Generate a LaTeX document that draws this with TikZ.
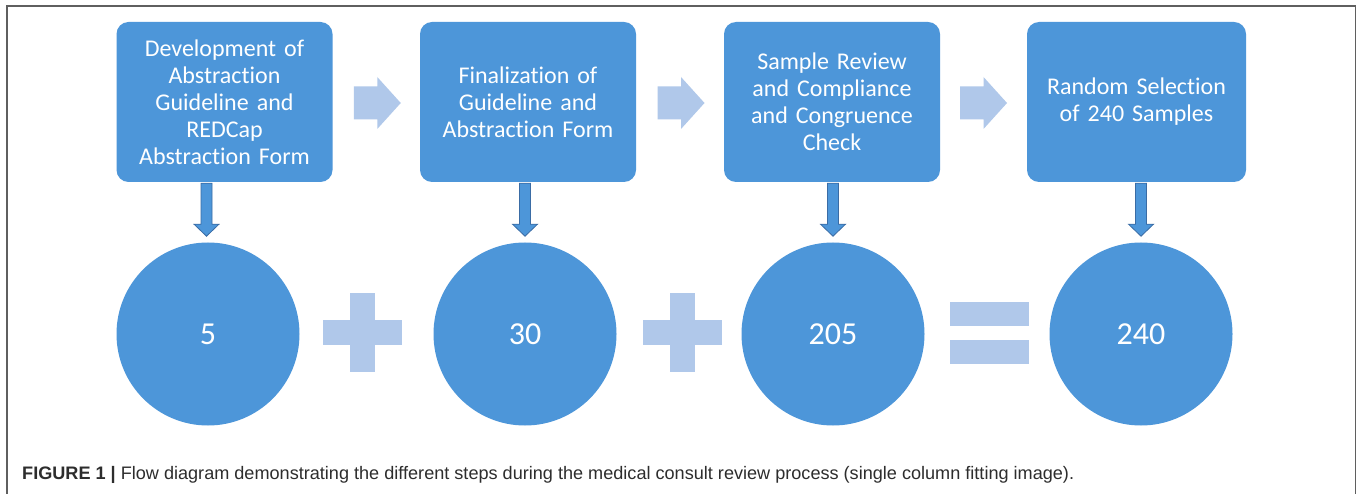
\documentclass[tikz,border=0pt]{standalone}
\usepackage{fontspec}
\setmainfont{Carlito}[Ligatures=NoCommon]
\newfontfamily\capfont{Liberation Sans}
\usetikzlibrary{calc}

\definecolor{stepblue}{RGB}{77,150,217}
\definecolor{paleblue}{RGB}{176,200,234}
\definecolor{edgeblue}{RGB}{58,108,165}
\definecolor{framegray}{RGB}{95,95,95}
\definecolor{captext}{RGB}{45,45,45}

\tikzset{
  stepbox/.style={fill=stepblue, rounded corners=12pt, minimum width=216pt,
    minimum height=160pt, text width=215pt, align=center, text=white,
    font=\fontsize{24}{27}\selectfont, inner sep=0pt},
  countcircle/.style={circle, fill=stepblue, minimum size=183pt, inner sep=0pt,
    text=white, font=\fontsize{32}{38}\selectfont},
  pics/droparrow/.style={code={
    \draw[edgeblue, fill=stepblue, line width=0.8pt]
      (-5.5,0) -- (5.5,0) -- (5.5,41) -- (12.5,41) -- (0,53) -- (-12.5,41) -- (-5.5,41) -- cycle;}},
  pics/nextarrow/.style={code={
    \fill[paleblue] (-23.5,-16.5) -- (0,-16.5) -- (0,-26) -- (23.5,0) -- (0,26) -- (0,16.5) -- (-23.5,16.5) -- cycle;}},
  pics/plussign/.style={code={
    \fill[paleblue] (-39.5,-12.5) rectangle (39.5,12.5);
    \fill[paleblue] (-12.5,-39.5) rectangle (12.5,39.5);}},
  pics/equalsign/.style={code={
    \fill[paleblue] (-39.5,-31) rectangle (39.5,-6.5);
    \fill[paleblue] (-39.5,6.5) rectangle (39.5,31);}},
}

\begin{document}
\begin{tikzpicture}[x=1pt,y=-1pt]
\useasboundingbox (0,0) rectangle (1360,494);
\fill[white] (0,0) rectangle (1360,494);
\draw[framegray, line width=1.2pt] (7,494) -- (7,6) -- (1355.5,6) -- (1355.5,494);

% process steps
\node[stepbox] (b1) at (224.5,102) {Development of\\Abstraction\\Guideline and\\REDCap\\Abstraction Form};
\node[stepbox] (b2) at (528,102) {Finalization of\\Guideline and\\Abstraction Form};
\node[stepbox] (b3) at (832,102) {Sample Review\\and Compliance\\and Congruence\\Check};
\node[stepbox, minimum width=219pt] (b4) at (1136.5,102) {Random Selection\\of 240 Samples};

% sample counts
\node[countcircle] (c1) at (208,334) {5};
\node[countcircle] (c2) at (525,334) {30};
\node[countcircle] (c3) at (833,334) {205};
\node[countcircle] (c4) at (1141,334) {240};

% arrows between steps
\path ($(b1.east)!0.5!(b2.west)$) ++(1,1) pic {nextarrow};
\path ($(b2.east)!0.5!(b3.west)$) ++(1,1) pic {nextarrow};
\path ($(b3.east)!0.5!(b4.west)$) ++(0,1) pic {nextarrow};

% arrows from each step to its count
\path (b1.south -| c1.center) ++(-1.5,1) pic {droparrow};
\path (b2.south -| c2.center) ++(0,1) pic {droparrow};
\path (b3.south -| c3.center) ++(0,1) pic {droparrow};
\path (b4.south -| c4.center) ++(0,1) pic {droparrow};

% arithmetic signs
\path (362.5,332.5) pic {plussign};
\path (682.5,332.5) pic {plussign};
\path (989.5,333) pic {equalsign};

% caption
\node[anchor=base west, inner sep=0pt, text=captext, font=\capfont\fontsize{18.1}{21}\selectfont] (cap) at (22,479)
  {\textbf{FIGURE 1 |} Flow diagram demonstrating the different steps during the medical consult review process (single column fitting image).};
\end{tikzpicture}
\end{document}
